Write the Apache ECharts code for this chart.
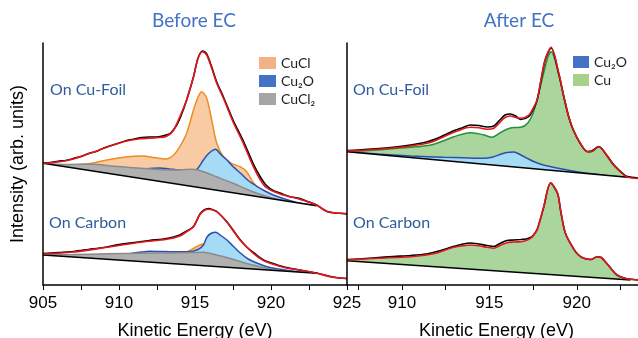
<!DOCTYPE html>
<html>
<head>
<meta charset="utf-8">
<script src="https://cdn.jsdelivr.net/npm/echarts@6/dist/echarts.min.js"></script>
<style>
  html, body { margin: 0; padding: 0; background: #fff; }
  #main { width: 638px; height: 338px; }
</style>
</head>
<body>
<div id="main"></div>
<script>
// [kinetic energy (eV), intensity (arb.)]

// Before EC - on Cu foil
const foilBeforeData = [[905,122],[905.5,122.5],[906,123.8],[906.5,124.5],[907,126.5],[907.5,128.5],[908,131.5],[908.5,133.5],[909,137],[909.5,139.5],[910,142],[910.5,144.5],[911,146],[911.5,147.5],[912,148],[912.5,148],[913,149.5],[913.4,152],[913.8,160],[914.1,170],[914.45,185],[914.9,208],[915.2,227],[915.5,234],[915.77,231],[916.1,218],[916.43,203],[916.87,188],[917.5,165],[918.18,144],[918.84,121],[919.3,108],[919.7,99.5],[920.2,94],[920.6,92],[921.2,88.5],[921.9,86.5],[922.5,83],[923,80],[923.4,76],[923.7,73.5],[924.2,72],[924.75,71.5],[925,71]];
const foilBeforeFit = [[905,121.7],[906.1,123.3],[907,126],[908.1,131.7],[909.2,137.7],[910.3,143.3],[911.4,146.3],[912.5,147.3],[913.1,148.5],[913.57,154.3],[914,168.3],[914.45,185],[914.9,208.3],[915.2,226.7],[915.5,233.3],[915.77,230],[916.1,216.7],[916.43,201.7],[916.87,186.7],[917.5,163.3],[918.18,141.7],[918.84,118.3],[919.3,105],[919.7,97.3],[920.6,91],[921.9,85.7],[923,80],[923.7,73.3],[924.3,72],[925,71.5]];
const foilBeforeBg = [[905,121.7],[923,79.3]];
const foilBeforeCuCl = [[906.5,119],[908.3,122],[909.2,125],[910.3,127.7],[911,128.7],[911.6,129],[912.3,127.5],[913.1,126],[913.6,130],[914,138.3],[914.45,151.7],[914.9,175],[915.2,188],[915.44,193.3],[915.77,186.7],[916.1,165],[916.43,141.7],[916.87,128.3],[917.4,121.7],[917.96,118.3],[918.4,113.3],[918.8,103.3],[919.3,95],[919.9,89],[920.5,85]];
const foilBeforeCu2O = [[910.5,108.8],[911.3,114],[912,116.5],[912.7,117],[913.3,116],[914,115],[914.8,115],[915.11,115.7],[915.55,125],[915.8,130],[916.1,134],[916.35,135.7],[916.7,130.5],[917.1,125],[917.5,118.5],[918,111.7],[918.5,104.5],[919.1,98.3],[919.6,94],[920.15,90],[921,85.5],[921.9,81.7],[922.9,79.5]];
const foilBeforeCuCl2 = [[905,121.7],[906.5,120.5],[908.3,120.8],[909.5,119],[910.5,117.8],[911.4,116.7],[912.5,115.5],[913.6,115],[914.8,115.7],[915.55,113.3],[916.4,108.3],[917.5,101.7],[918.8,93.3],[920.15,86.7],[921,84]];

// Before EC - on carbon
const carbonBeforeData = [[905,31.5],[906,32.5],[907,33.5],[908,35.5],[909,37.5],[910,40.5],[911,42.5],[912,44.5],[913.14,46.5],[914,50],[914.45,54],[914.9,58.5],[915.33,71],[915.6,75],[915.88,76.5],[916.2,75],[916.43,73.5],[917.08,63.5],[917.5,55],[917.96,45.5],[918.4,38],[918.84,32.5],[919.5,25],[920.15,21.5],[921,17.5],[921.9,15],[923,12],[923.9,8.5],[924.5,7],[925,6.5]];
const carbonBeforeFit = [[905,31],[907,33],[909.2,37.7],[911.4,42.7],[913.14,45.7],[914,49],[914.45,53.3],[914.9,58.3],[915.33,70.7],[915.88,75.7],[916.43,73.3],[917.08,63.3],[917.96,45],[918.84,31.7],[919.5,24.5],[920.15,20.7],[921,17],[921.9,15],[923,11.7],[923.9,8.3],[924.5,7],[925,6.5]];
const carbonBeforeBg = [[905,30],[923,11.7]];
const carbonBeforeCuCl = [[912,23],[914,31],[914.45,33],[915.1,38.3],[915.55,41],[915.88,38.3],[916.2,33.3],[916.8,29],[917.5,26],[918.4,23.3],[919.3,19.5],[920.3,16]];
const carbonBeforeCu2O = [[910.5,30.5],[911,32],[911.5,33],[912,33.8],[912.8,33.5],[913.6,33.2],[914.5,33.2],[915.2,35.5],[915.55,40],[915.8,48.3],[916.1,52],[916.35,52.7],[916.7,49.5],[917.1,45],[917.5,39],[918,31.7],[918.5,26],[919.1,21.7],[919.8,18],[920.6,15.7],[921.5,13.8],[922.3,12.3],[922.9,11.8]];
const carbonBeforeCuCl2 = [[905,30],[907,30.5],[909.2,31.2],[911.4,31.7],[913.6,32.1],[914.8,32.5],[915.55,32.7],[916.4,30],[917.2,27],[918,23.3],[918.8,20],[919.7,16.7],[920.5,14.6],[921.2,13.5]];

// After EC - on Cu foil
const foilAfterData = [[906.86,134.5],[907.5,135],[908.5,136.2],[909.5,137.8],[910.5,140],[911,141.5],[911.5,143.5],[912,146.5],[912.5,150.5],[913,154.5],[913.5,157.5],[913.9,160],[914.4,159.5],[914.87,158],[915.26,159],[915.6,165],[915.9,170],[916.2,171],[916.5,169],[916.8,165.5],[917.26,168.5],[917.5,175.5],[917.73,184.5],[917.95,204],[918.2,225.5],[918.53,237],[918.97,211],[919.26,188],[919.54,168],[919.8,155],[920.2,141.5],[920.6,133.5],[920.85,134],[921.26,138.5],[921.7,130],[922.1,120.5],[922.7,110.5],[922.9,108.5],[923.5,107]];
const foilAfterFit = [[906.86,134],[907.8,134.8],[908.6,135.7],[909.5,137],[910.5,139],[911.45,141.7],[912,145],[912.4,148.3],[912.8,151.5],[913.2,154.3],[913.9,157.7],[914.4,157.2],[914.87,155.7],[915.26,156.7],[915.6,162.5],[915.83,166.7],[916.2,169],[916.5,167.5],[916.8,166.7],[917.26,170],[917.5,176.7],[917.73,185],[917.95,205],[918.2,226],[918.53,237.7],[918.97,211.7],[919.26,188.3],[919.54,168.3],[919.8,155],[920.2,141.7],[920.6,133.3],[920.85,133.5],[921.26,138.3],[921.7,130],[922.1,120],[922.7,110],[922.9,107.7],[923.5,106.5]];
const foilAfterBg = [[906.86,133.3],[922.9,107.7]];
const foilAfterCu = [[906.86,133.3],[908.6,135],[910.5,137.7],[911.5,139.5],[912,141.7],[912.5,145],[912.97,148.3],[913.9,152.3],[914.3,151.5],[914.7,150],[915.16,147.7],[915.6,152],[916,155.7],[916.4,157.5],[916.8,157.7],[917.2,162],[917.5,171.7],[917.8,190],[918.1,211.7],[918.35,228],[918.53,233.3],[918.97,210.5],[919.26,188.3],[919.54,168.3],[919.8,155],[920.2,141.7],[920.6,133.3],[920.85,133.5],[921.26,138.3],[921.7,130],[922.1,120],[922.8,108.5]];
const foilAfterCu2O = [[906.86,133.3],[908.6,131],[910.5,129],[912.4,127.7],[913.5,127.2],[914.7,126.7],[915.2,128],[915.64,130.7],[916,132.5],[916.4,133],[916.8,130],[917.16,126.7],[917.6,123],[918.1,120],[919,116.5],[920,113.3],[921,111],[921.9,109],[922.8,107.9]];

// After EC - on carbon
const carbonAfterData = [[906.86,25.5],[907.5,26],[908.5,27.3],[909.5,28.5],[910.5,29.5],[911.4,31],[912,33.5],[912.5,36],[913,38.8],[913.5,41],[913.9,42],[914.4,41],[914.87,39.5],[915.26,38.5],[915.6,41.5],[916,44.5],[916.4,45],[916.8,45.5],[917.1,46],[917.35,47.5],[917.5,49.5],[917.73,55.5],[918.11,78],[918.5,102],[918.9,91.5],[919.07,75],[919.35,51.7],[919.8,36.7],[920.1,30],[920.4,26.7],[920.8,25.5],[921.16,28.3],[921.4,27.5],[921.7,21.7],[922,15.5],[922.3,10],[922.7,7],[923.07,5.7],[923.5,5]];
const carbonAfterFit = [[906.86,25],[908.6,26.7],[910.5,28.3],[911.4,30],[912,32],[912.4,34.5],[912.97,37.7],[913.5,39.3],[913.9,40],[914.4,39.3],[914.87,37.7],[915.26,36.7],[915.6,39.5],[916,42.3],[916.4,43],[916.8,43.3],[917.1,44.5],[917.35,46.7],[917.5,49],[917.73,55],[918.11,78.3],[918.5,102.3],[918.9,91.7],[919.07,75],[919.35,51.7],[919.8,36.7],[920.1,30],[920.4,26.7],[920.8,25.5],[921.16,28.3],[921.4,27.5],[921.7,21.7],[922,15.5],[922.3,10],[922.7,7],[923.07,5.7],[923.5,5]];
const carbonAfterBg = [[906.86,24.3],[923.07,5]];

// axis ticks / labels
const beforeTicks = [905, 907.5, 910, 912.5, 915, 917.5, 920, 922.5, 925];
const beforeLabels = [905, 910, 915, 920, 925];
const afterTicks = [907.5, 910, 912.5, 915, 917.5, 920, 922.5];
const afterLabels = [910, 915, 920];

const colors = {
  CuCl: ['#ee8d22', '#f9cba4', '#f4b183'],
  'Cu₂O': ['#2c4fae', '#a5dbf4', '#4472c4'],
  'CuCl₂': ['#8a8a8a', '#b0b0b0', '#a5a5a5'],
  Cu: ['#23923a', '#aad59d', '#a9d18e']
};

// each series gets its own z so a later series fully paints over earlier ones
let zOrder = 2;

function comp(name, data, i, lw) {
  return {
    name: name, type: 'line', data: data, xAxisIndex: i, yAxisIndex: i, z: zOrder++,
    smooth: 0.3, symbol: 'none', silent: true,
    lineStyle: { color: colors[name][0], width: lw === undefined ? 1.5 : lw },
    itemStyle: { color: colors[name][0] },
    areaStyle: { color: colors[name][1], opacity: 1, origin: 'start' }
  };
}
// background line; white fill hides everything under it
function base(data, i) {
  return {
    type: 'line', data: data, xAxisIndex: i, yAxisIndex: i, z: zOrder++, symbol: 'none', silent: true,
    lineStyle: { color: '#000', width: 1.5 },
    areaStyle: { color: '#fff', opacity: 1, origin: 'start' }
  };
}
function trace(data, color, w, i) {
  return {
    type: 'line', data: data, xAxisIndex: i, yAxisIndex: i, z: zOrder++, smooth: 0.3, symbol: 'none', silent: true,
    lineStyle: { color: color, width: w }
  };
}

const chart = echarts.init(document.getElementById('main'));

const axisFont = 'Liberation Sans, Arial, sans-serif';
function xAx(i, min, max, ticks, labels) {
  return {
    type: 'value', gridIndex: i, min: min, max: max, z: 100,
    axisLine: { lineStyle: { color: '#000', width: 1.5 } },
    axisTick: { customValues: ticks, length: 5, lineStyle: { color: '#000', width: 1 } },
    axisLabel: { customValues: labels, color: '#000', fontSize: 17, fontFamily: axisFont, margin: 10 },
    splitLine: { show: false },
    name: 'Kinetic Energy (eV)', nameLocation: 'middle', nameGap: 37,
    nameTextStyle: { color: '#000', fontSize: 18, fontFamily: axisFont, padding: i === 1 ? [0, 0, 0, 8] : 0 }
  };
}
function yAx(i, name) {
  return {
    type: 'value', gridIndex: i, min: 0, max: 242, z: 100,
    axisLine: { show: true, lineStyle: { color: '#000', width: 1.5 } },
    axisTick: { show: false }, axisLabel: { show: false }, splitLine: { show: false },
    name: name, nameLocation: 'middle', nameGap: 16, nameRotate: 90,
    nameTextStyle: { color: '#000', fontSize: 18, fontFamily: axisFont }
  };
}

const legendText = { fontFamily: 'Lato', fontSize: 14, color: '#222', lineHeight: 14 };
function legendItem(n) {
  return { name: n, itemStyle: { color: colors[n][2], borderWidth: 0 } };
}

const blueTitle = '#4472c4';
const blueLabel = '#2f5c9f';
function txt(t, x, y, size, color, align) {
  return {
    type: 'text', x: x, y: y, z: 200, silent: true,
    style: { text: t, fontFamily: 'Lato', fontSize: size, fill: color, align: align, verticalAlign: 'middle' }
  };
}

// green fill on carbon stops where the background ends
const carbonAfterCu = carbonAfterFit.filter(p => p[0] < 923);

const series = [
  // before EC, Cu foil
  comp('CuCl', foilBeforeCuCl, 0),
  comp('Cu₂O', foilBeforeCu2O, 0),
  comp('CuCl₂', foilBeforeCuCl2, 0),
  base(foilBeforeBg, 0),
  trace(foilBeforeData, '#000', 1.6, 0),
  trace(foilBeforeFit, '#e3161c', 1.6, 0),
  // before EC, carbon
  comp('CuCl', carbonBeforeCuCl, 0),
  comp('Cu₂O', carbonBeforeCu2O, 0),
  comp('CuCl₂', carbonBeforeCuCl2, 0),
  base(carbonBeforeBg, 0),
  trace(carbonBeforeData, '#000', 1.6, 0),
  trace(carbonBeforeFit, '#e3161c', 1.6, 0),
  // after EC, Cu foil
  comp('Cu', foilAfterCu, 1),
  comp('Cu₂O', foilAfterCu2O, 1),
  base(foilAfterBg, 1),
  trace(foilAfterData, '#000', 1.6, 1),
  trace(foilAfterFit, '#e3161c', 1.6, 1),
  // after EC, carbon
  comp('Cu', carbonAfterCu, 1, 0),
  base(carbonAfterBg, 1),
  trace(carbonAfterData, '#000', 1.6, 1),
  trace(carbonAfterFit, '#e3161c', 1.6, 1)
];

chart.setOption({
  animation: false,
  grid: [
    { left: 43, top: 43, width: 304, height: 242, outerBoundsMode: 'none' },
    { left: 347, top: 43, width: 291, height: 242, outerBoundsMode: 'none' }
  ],
  xAxis: [
    xAx(0, 905, 925, beforeTicks, beforeLabels),
    xAx(1, 906.86, 923.5, afterTicks, afterLabels)
  ],
  yAxis: [yAx(0, 'Intensity (arb. units)'), yAx(1, '')],
  legend: [
    { left: 259, top: 56, orient: 'vertical', icon: 'rect', itemWidth: 17, itemHeight: 12, itemGap: 4, padding: 0,
      selectedMode: false, textStyle: legendText, data: ['CuCl', 'Cu₂O', 'CuCl₂'].map(legendItem) },
    { left: 573, top: 55, orient: 'vertical', icon: 'rect', itemWidth: 16, itemHeight: 12, itemGap: 4, padding: 0,
      selectedMode: false, textStyle: legendText, data: ['Cu₂O', 'Cu'].map(legendItem) }
  ],
  graphic: [
    txt('Before EC', 194, 21, 19, blueTitle, 'center'),
    txt('After EC', 519, 21, 19, blueTitle, 'center'),
    txt('On Cu-Foil', 50, 90, 16, blueLabel, 'left'),
    txt('On Carbon', 49, 223, 16, blueLabel, 'left'),
    txt('On Cu-Foil', 353, 90, 16, blueLabel, 'left'),
    txt('On Carbon', 353, 223, 16, blueLabel, 'left')
  ],
  series: series
});
</script>
</body>
</html>
